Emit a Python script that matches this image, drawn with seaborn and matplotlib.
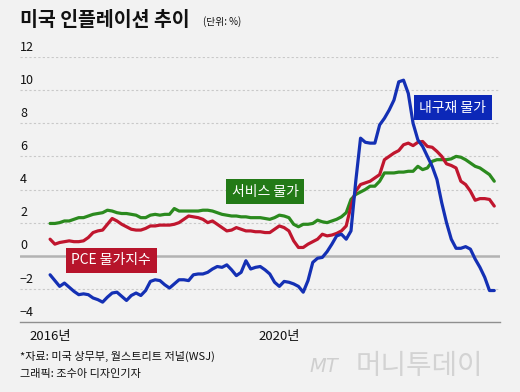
import matplotlib
matplotlib.use("Agg")
import matplotlib.pyplot as plt
import matplotlib.transforms as mtransforms
import seaborn as sns
import numpy as np
import pandas as pd

# ---- data (monthly, Jan 2016 .. Oct 2023) ----
services = [1.95, 1.95, 2.0, 2.1, 2.1, 2.2, 2.3, 2.3, 2.4, 2.5, 2.55, 2.6,
            2.75, 2.7, 2.6, 2.55, 2.55, 2.5, 2.45, 2.3, 2.3, 2.45, 2.5, 2.45,
            2.5, 2.5, 2.85, 2.7, 2.7, 2.7, 2.7, 2.7, 2.75, 2.75, 2.7, 2.6,
            2.5, 2.45, 2.4, 2.4, 2.35, 2.35, 2.3, 2.3, 2.3, 2.25, 2.2, 2.3,
            2.45, 2.4, 2.3, 1.9, 1.75, 1.9, 1.9, 1.95, 2.15, 2.05, 2.0, 2.1,
            2.2, 2.35, 2.6, 3.4, 3.7, 3.85, 4.0, 4.2, 4.2, 4.5, 5.0, 5.0,
            5.0, 5.05, 5.05, 5.1, 5.1, 5.4, 5.2, 5.3, 5.7, 5.8, 5.8, 5.8,
            5.85, 6.0, 5.95, 5.8, 5.6, 5.4, 5.3, 5.1, 4.9, 4.5]
pce = [1.0, 0.7, 0.8, 0.85, 0.9, 0.85, 0.85, 0.9, 1.1, 1.4, 1.5, 1.55,
       1.9, 2.25, 2.1, 1.9, 1.75, 1.6, 1.55, 1.55, 1.65, 1.8, 1.8, 1.85,
       1.85, 1.85, 1.9, 2.0, 2.2, 2.4, 2.35, 2.3, 2.2, 2.0, 2.1, 1.9,
       1.7, 1.5, 1.55, 1.7, 1.6, 1.5, 1.5, 1.45, 1.45, 1.4, 1.4, 1.6,
       1.8, 1.7, 1.5, 0.9, 0.5, 0.5, 0.7, 0.85, 1.0, 1.3, 1.2, 1.25,
       1.35, 1.5, 1.8, 3.0, 3.9, 4.3, 4.4, 4.5, 4.7, 4.9, 5.8, 6.0,
       6.2, 6.35, 6.7, 6.8, 6.65, 6.85, 6.9, 6.6, 6.55, 6.3, 6.0, 5.55,
       5.45, 5.3, 4.5, 4.3, 3.9, 3.35, 3.45, 3.45, 3.4, 3.0]
durables = [-1.15, -1.5, -1.85, -1.65, -1.9, -2.15, -2.35, -2.3, -2.35, -2.55, -2.65, -2.8,
            -2.5, -2.25, -2.2, -2.45, -2.7, -2.4, -2.25, -2.4, -2.1, -1.55, -1.45, -1.5,
            -1.75, -1.95, -1.7, -1.45, -1.45, -1.5, -1.15, -1.1, -1.1, -1.0, -0.8, -0.65,
            -0.7, -0.55, -0.85, -1.2, -1.0, -0.3, -0.8, -0.7, -0.65, -0.85, -1.1, -1.6,
            -1.85, -1.55, -1.6, -1.7, -1.85, -2.2, -1.5, -0.4, -0.15, -0.1, 0.25, 0.7,
            1.2, 1.3, 1.0, 1.5, 4.5, 7.1, 6.85, 6.8, 6.8, 7.9, 8.3, 8.8,
            9.4, 10.5, 10.6, 9.8, 8.0, 7.0, 6.6, 6.0, 5.4, 4.6, 3.2, 2.0,
            1.0, 0.45, 0.45, 0.55, 0.4, -0.2, -0.7, -1.3, -2.1, -2.1]
series_names = ["서비스 물가", "PCE 물가지수", "내구재 물가"]
series_colors = ["#2b8a1e", "#c0162e", "#1430b4"]
box_colors = ["#237a17", "#b7142b", "#0c28b8"]
year_ticks = [2016, 2017, 2018, 2019, 2020, 2021, 2022, 2023]
year_labels = ["2016년", "", "", "", "2020년", "", "", ""]
y_ticks = [-4, -2, 0, 2, 4, 6, 8, 10, 12]
y_labels = ["−4", "−2", "0", "2", "4", "6", "8", "10", "12"]

months = np.arange(len(services))
df = pd.concat([
    pd.DataFrame({"m": months, "v": vals, "s": name})
    for name, vals in zip(series_names, [services, pce, durables])
])

sns.set_style("white")
plt.rcParams["font.family"] = ["Noto Sans CJK KR", "DejaVu Sans"]

W, H = 520, 392
fig = plt.figure(figsize=(W / 100, H / 100), dpi=100, facecolor="#f2f2f2")
ax = fig.add_axes([20 / W, 1 - 322 / H, 480 / W, 265 / H])
ax.set_facecolor("#f2f2f2")

sns.lineplot(data=df, x="m", y="v", hue="s", hue_order=series_names,
             palette=series_colors, linewidth=2.3, legend=False, ax=ax)

ax.set_xlim(-6.3, 94.2)
ax.set_ylim(-4, 12)

# gridlines
for t in y_ticks[1:]:
    if t == 0:
        ax.axhline(0, color="#b3b3b3", lw=1.8, zorder=0)
    else:
        ax.axhline(t, color="#c9c9c9", lw=0.8, ls=(0, (2, 2)), zorder=0)

for sp in ["top", "right", "left"]:
    ax.spines[sp].set_visible(False)
ax.spines["bottom"].set_color("#8f8f8f")
ax.spines["bottom"].set_linewidth(1.0)

ax.set_yticks([])
ax.set_xticks([(y - 2016) * 12 for y in year_ticks])
ax.set_xticklabels(year_labels, fontsize=9.5, color="#111111")
ax.tick_params(axis="x", length=3, width=0.8, color="#8f8f8f", pad=3)
ax.set_xlabel("")
ax.set_ylabel("")

trans = mtransforms.blended_transform_factory(ax.transAxes, ax.transData)
for t, lab in zip(y_ticks, y_labels):
    ax.text(0.0, t + 0.2, lab, transform=trans, ha="left", va="bottom",
            fontsize=9, color="#111111")

# series labels
label_pos = [(45.0, 3.87), (12.8, -0.27), (84.3, 8.93)]
for name, (mx, my), bc in zip(series_names, label_pos, box_colors):
    ax.text(mx, my, name, ha="center", va="center", fontsize=10, color="white",
            bbox=dict(boxstyle="square,pad=0.4", fc=bc, ec="none"), zorder=5)

# title and notes
fig.text(20 / W, 1 - 20 / H, "미국 인플레이션 추이", fontsize=14, fontweight="bold",
         ha="left", va="center", color="#111111")
fig.text(203 / W, 1 - 22 / H, "(단위: %)", fontsize=7, ha="left", va="center",
         color="#111111")
fig.text(20 / W, 1 - 356 / H, "*자료: 미국 상무부, 월스트리트 저널(WSJ)", fontsize=8,
         ha="left", va="center", color="#111111")
fig.text(20 / W, 1 - 374 / H, "그래픽: 조수아 디자인기자", fontsize=8,
         ha="left", va="center", color="#111111")
fig.text(309 / W, 1 - 366 / H, "MT", fontsize=14, fontstyle="italic",
         ha="left", va="center", color="#cfcfcf", family=["DejaVu Sans"])
fig.text(356 / W, 1 - 366 / H, "머니투데이", fontsize=20, fontweight="light",
         ha="left", va="center", color="#d3d3d3")

fig.savefig("out.png", dpi=100, facecolor=fig.get_facecolor())
